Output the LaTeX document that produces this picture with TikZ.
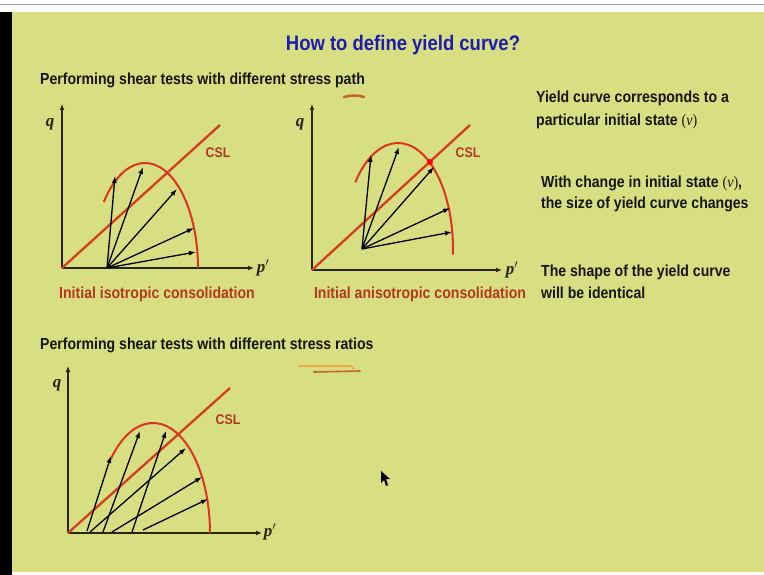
\documentclass[tikz,border=0pt]{standalone}
\usepackage{fontspec}
\usepackage{graphicx}
\setmainfont{Liberation Sans}
\newfontfamily\serifface{Liberation Serif}
\usetikzlibrary{arrows.meta}
\definecolor{bg}{RGB}{216,222,130}
\definecolor{titleblue}{RGB}{28,28,175}
\definecolor{cslred}{RGB}{212,62,32}
\definecolor{curvered}{RGB}{220,52,30}
\definecolor{labelred}{RGB}{178,56,32}
\definecolor{axiscol}{RGB}{38,38,18}
\definecolor{textcol}{RGB}{22,22,12}
\definecolor{annot}{RGB}{200,100,40}
\definecolor{annotlight}{RGB}{232,172,72}
\newcommand{\nar}[1]{\scalebox{0.88}[1]{#1}}
\begin{document}
\begin{tikzpicture}[x=1pt,y=-1pt,
  axis/.style={draw=axiscol,line width=2.2pt,-{Latex[length=6pt,width=5pt]}},
  csl/.style={draw=cslred,line width=2.3pt},
  ycurve/.style={draw=curvered,line width=2pt},
  sp/.style={draw=black,line width=1.3pt,-{Latex[length=7pt,width=5pt]}},
  heading/.style={font=\bfseries\fontsize{16}{18}\selectfont,text=textcol,anchor=west,inner sep=0},
  axlab/.style={font=\serifface\bfseries\itshape\fontsize{17}{19}\selectfont,text=axiscol,inner sep=0},
  csllab/.style={font=\bfseries\fontsize{14}{16}\selectfont,text=labelred,inner sep=0},
  caption/.style={font=\bfseries\fontsize{16}{18}\selectfont,text=labelred,inner sep=0},
]
\useasboundingbox (0,0) rectangle (764,575);
\fill[white] (0,0) rectangle (764,575);
\draw[gray!70,line width=1pt] (0,5) -- (764,5);
\fill[bg] (12,12) rectangle (764,572);
\fill[black] (0,12) rectangle (12,575);

% title and headings
\node[font=\bfseries\fontsize{21}{24}\selectfont,text=titleblue,inner sep=0] (title) at (403,45) {\nar{How to define yield curve?}};
\node[heading] (h1) at (40,80) {\nar{Performing shear tests with different stress path}};
\node[heading] (h2) at (40,345) {\nar{Performing shear tests with different stress ratios}};

% right notes
\node[heading] (n1) at (536,98) {\nar{Yield curve corresponds to a}};
\node[heading] (n2) at (536,121) {\nar{particular initial state {\serifface\mdseries(\textit{v})}}};
\node[heading] (n3) at (541,183) {\nar{With change in initial state {\serifface\mdseries(\textit{v})},}};
\node[heading] (n4) at (541,204) {\nar{the size of yield curve changes}};
\node[heading] (n5) at (541,272) {\nar{The shape of the yield curve}};
\node[heading] (n6) at (541,293) {\nar{will be identical}};

% ---------- diagram 1 ----------
\coordinate (o1) at (62,268);
\coordinate (qt1) at (62,104);
\coordinate (pt1) at (254,268);
\coordinate (ct1) at (220,125);
\coordinate (c1) at (145,268);
\coordinate (s1) at (107,268);
\coordinate (e11) at (115,176);
\coordinate (e12) at (143,167);
\coordinate (e13) at (177,189);
\coordinate (e14) at (194,228);
\coordinate (e15) at (196,252);
\draw[axis] (o1) -- (qt1);
\draw[axis] (o1) -- (pt1);
\draw[csl] (o1) -- (ct1);
\draw[ycurve] ([shift={(-141:53 and 105)}]c1) arc[start angle=-141,end angle=0,x radius=53,y radius=105];
\foreach \e in {e11,e12,e13,e14,e15} \draw[sp] (s1) -- (\e);
\node[axlab] (ql1) at (50,124) {q};
\node[axlab] (pl1) at (263,268) {p$'$};
\node[csllab] (cl1) at (218,153) {\nar{CSL}};
\node[caption] (cap1) at (157,294) {\nar{Initial isotropic consolidation}};

% ---------- diagram 2 ----------
\coordinate (o2) at (312,270);
\coordinate (qt2) at (312,104);
\coordinate (pt2) at (502,270);
\coordinate (ct2) at (470,125);
\coordinate (c2) at (398,249);
\coordinate (s2) at (362,249);
\coordinate (e21) at (371,155);
\coordinate (e22) at (399,147);
\coordinate (e23) at (434,167);
\coordinate (e24) at (450,208);
\coordinate (e25) at (452,232);
\draw[axis] (o2) -- (qt2);
\draw[axis] (o2) -- (pt2);
\draw[csl] (o2) -- (ct2);
\draw[ycurve] ([shift={(-141:55 and 106)}]c2) arc[start angle=-141,end angle=3,x radius=55,y radius=106];
\foreach \e in {e21,e22,e23,e24,e25} \draw[sp] (s2) -- (\e);
\fill[red] (430,162) circle[radius=3pt];
\node[axlab] (ql2) at (300,124) {q};
\node[axlab] (pl2) at (512,270) {p$'$};
\node[csllab] (cl2) at (468,153) {\nar{CSL}};
\node[caption] (cap2) at (420,294) {\nar{Initial anisotropic consolidation}};

% ---------- diagram 3 ----------
\coordinate (o3) at (68,533);
\coordinate (qt3) at (68,366);
\coordinate (pt3) at (262,533);
\coordinate (ct3) at (230,388);
\coordinate (c3) at (153,533);
\coordinate (a1) at (87,531);  \coordinate (b1) at (111,456);
\coordinate (a2) at (103,532); \coordinate (b2) at (140,431);
\coordinate (a3) at (132,532); \coordinate (b3) at (166,431);
\coordinate (a4) at (90,532);  \coordinate (b4) at (186,448);
\coordinate (a5) at (112,532); \coordinate (b5) at (202,477);
\coordinate (a6) at (143,530); \coordinate (b6) at (208,499);
\draw[axis] (o3) -- (qt3);
\draw[axis] (o3) -- (pt3);
\draw[csl] (o3) -- (ct3);
\draw[ycurve] ([shift={(-138:57 and 110)}]c3) arc[start angle=-138,end angle=0,x radius=57,y radius=110];
\foreach \i in {1,...,6} \draw[sp] (a\i) -- (b\i);
\node[axlab] (ql3) at (57,385) {q};
\node[axlab] (pl3) at (270,532) {p$'$};
\node[csllab] (cl3) at (228,420) {\nar{CSL}};

% hand annotations
\draw[annot,line width=2.5pt,line cap=round] (344,97) .. controls (351,95) and (358,95) .. (364,97);
\draw[annotlight,line width=2pt,line cap=round] (299,366) -- (351,366) -- (354,369);
\draw[annot,line width=1.6pt,line cap=round] (314,372) -- (360,371);

% mouse pointer
\fill[black] (381,471) -- (381,483) -- (384,480) -- (386,486) -- (388,485) -- (386,479) -- (390,479) -- cycle;
\end{tikzpicture}
\end{document}
